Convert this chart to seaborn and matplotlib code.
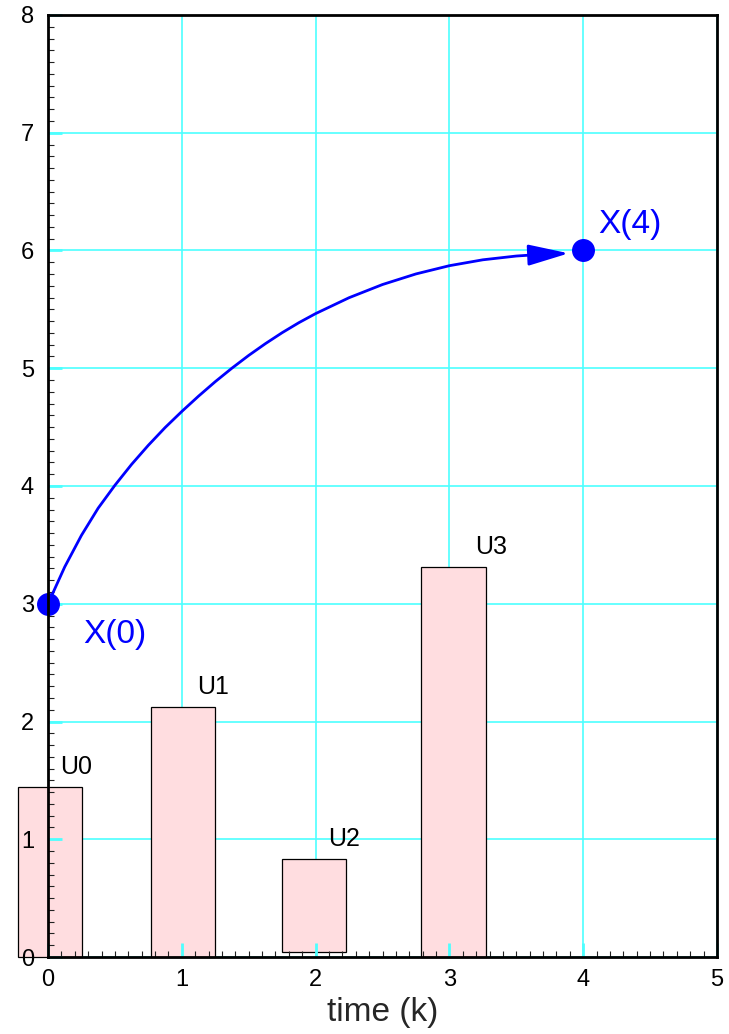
"""
State trajectory X(k) with control inputs U(k)
"""
import numpy as np
import pandas as pd
import matplotlib
matplotlib.use("Agg")
import matplotlib.pyplot as plt
from matplotlib.ticker import MultipleLocator
import seaborn as sns

# control inputs (bars)
u_labels = ['U0', 'U1', 'U2', 'U3']
u_time = [0.015, 1.01, 1.99, 3.03]
u_height = [1.446, 2.126, 0.792, 3.315]
u_bottom = [0.0, 0.0, 0.04, 0.0]

# state trajectory
curve_k = [0.0, 0.125, 0.25, 0.375, 0.5, 0.625, 0.75, 0.875, 1.0, 1.125,
           1.25, 1.375, 1.5, 1.625, 1.75, 1.875, 2.0, 2.25, 2.5, 2.75,
           3.0, 3.25, 3.5, 3.63, 3.892]
curve_x = [3.0, 3.313, 3.581, 3.812, 4.006, 4.184, 4.346, 4.496, 4.633, 4.763,
           4.886, 5.001, 5.109, 5.209, 5.302, 5.387, 5.464, 5.599, 5.711, 5.801,
           5.871, 5.921, 5.953, 5.963, 5.976]

# end points
state_labels = ['X(0)', 'X(4)']
state_k = [0, 4]
state_x = [3, 6]

BLUE = '#0000ff'
CYAN = '#4dffff'
PINK = '#ffdde0'

sns.set_style("white")
plt.rcParams['font.family'] = ['Liberation Sans', 'DejaVu Sans']

fig = plt.figure(figsize=(7.29, 10.34), dpi=100)
ax = fig.add_axes([48 / 729, 77 / 1034, 669 / 729, 942 / 1034])
ax.set_axisbelow(False)

# grid behind the bars, axis on top
for v in range(0, 6):
    ax.axvline(v, color=CYAN, lw=1.2, zorder=0.5)
for v in range(0, 9):
    ax.axhline(v, color=CYAN, lw=1.2, zorder=0.5)

# bars
ax.bar(u_time, u_height, bottom=u_bottom, width=0.48, color=PINK,
       edgecolor='black', linewidth=0.9, clip_on=False, zorder=1)
label_dx = [0.075, 0.107, 0.10, 0.16]
for lab, t, h, b, dx in zip(u_labels, u_time, u_height, u_bottom, label_dx):
    ax.text(t + dx, b + h + 0.11, lab, fontsize=18, color='black',
            ha='left', va='baseline')

# trajectory
df = pd.DataFrame({'k': curve_k, 'x': curve_x})
sns.lineplot(data=df.iloc[:-1], x='k', y='x', color=BLUE, lw=2, ax=ax,
             zorder=3)
ax.annotate('', xy=(curve_k[-1], curve_x[-1]), xytext=(curve_k[-2], curve_x[-2]),
            arrowprops=dict(arrowstyle='-|>,head_length=2.5,head_width=0.65',
                            color=BLUE, lw=2, shrinkA=0, shrinkB=0,
                            mutation_scale=10), zorder=3)

pts = pd.DataFrame({'k': state_k, 'x': state_x})
ax.plot(pts['k'], pts['x'], 'o', color=BLUE, ms=15.5, clip_on=False, zorder=4)
ax.text(state_k[0] + 0.26, state_x[0] - 0.33, state_labels[0], color=BLUE,
        fontsize=24, ha='left', va='baseline')
ax.text(state_k[1] + 0.11, state_x[1] + 0.15, state_labels[1], color=BLUE,
        fontsize=24, ha='left', va='baseline')

ax.set_xlim(0, 5)
ax.set_ylim(0, 8)
ax.xaxis.set_major_locator(MultipleLocator(1))
ax.yaxis.set_major_locator(MultipleLocator(1))
ax.xaxis.set_minor_locator(MultipleLocator(0.1))
ax.yaxis.set_minor_locator(MultipleLocator(0.1))
ax.tick_params(which='major', direction='in', length=10, width=2, color=CYAN,
               labelsize=17, labelcolor='black')
ax.tick_params(axis='x', which='major', pad=9)
ax.tick_params(axis='y', which='major', pad=10)
ax.tick_params(which='minor', direction='in', length=4.5, width=0.8,
               color='#222222')
ax.tick_params(bottom=True, left=True, which='both')

for s in ax.spines.values():
    s.set_visible(True)
    s.set_color('black')
    s.set_linewidth(2)
    s.set_zorder(5)

ax.set_xlabel('time (k)', fontsize=24, labelpad=4)
ax.set_ylabel('')

fig.savefig('out.png', dpi=100)
